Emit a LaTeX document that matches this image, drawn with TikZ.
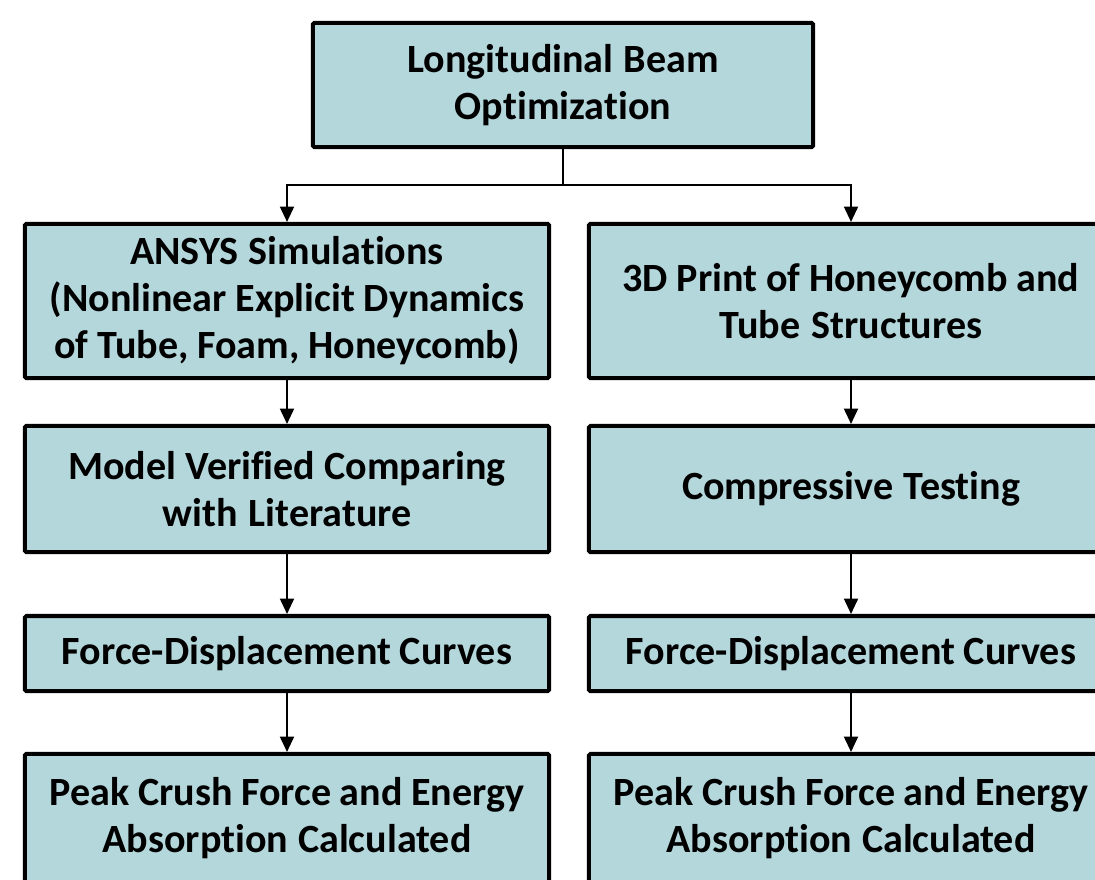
\documentclass[tikz,border=0pt]{standalone}
\usepackage{fontspec}
\setmainfont{Carlito}[Ligatures={NoCommon,NoContextual}]
\usepackage{tikz}
\usetikzlibrary{arrows.meta}

\definecolor{boxfill}{RGB}{180,215,220}
\newcommand\stagefont{\fontsize{28.5}{33.4}\selectfont\bfseries}
\newcommand\tightwords{\spaceskip=0.2em plus 0.05em minus 0.02em\relax}

\tikzset{
  stage/.style={draw=black, fill=boxfill, line width=2.85pt, rounded corners=1pt,
    inner sep=0pt, align=center, text width=12.9cm, minimum width=13.1cm,
    font=\stagefont},
  flow/.style={line width=1.4pt, -{Triangle[length=11pt,width=10pt]}},
}

\begin{document}
\begin{tikzpicture}[x=0.025cm, y=-0.025cm]
\clip (0,0) rectangle (1095,879);

% Top
\node[stage, minimum width=12.5cm, minimum height=3.1cm, text width=12.2cm] (beam) at (563,85) {\tightwords Longitudinal Beam\\Optimization};
\coordinate (split) at (563,185);

% Simulation side
\node[stage, minimum height=3.85cm] (ansys) at (287,301) {\tightwords ANSYS Simulations\\(Nonlinear Explicit Dynamics\\of Tube, Foam, Honeycomb)};
\node[stage, minimum height=3.15cm] (verify) at (287,489) {\tightwords Model Verified Comparing\\with Literature};
\node[stage, minimum height=1.875cm] (simcurve) at (287,653.5) {\tightwords Force-Displacement Curves};
\node[stage, minimum height=3.2cm] (simpeak) at (287,818) {\tightwords Peak Crush Force and Energy\\Absorption Calculated};

% Test side
\node[stage, minimum height=3.85cm] (print) at (851,301) {\tightwords 3D Print of Honeycomb and\\Tube Structures};
\node[stage, minimum height=3.15cm] (test) at (851,489) {\tightwords Compressive Testing};
\node[stage, minimum height=1.875cm] (testcurve) at (851,653.5) {\tightwords Force-Displacement Curves};
\node[stage, minimum height=3.2cm] (testpeak) at (851,818) {\tightwords Peak Crush Force and Energy\\Absorption Calculated};

% Connectors
\draw[line width=1.4pt] (beam) -- (split);
\draw[flow] (split) -| (ansys.north);
\draw[flow] (split) -| (print.north);
\draw[flow] (ansys) -- (verify);
\draw[flow] (verify) -- (simcurve);
\draw[flow] (simcurve) -- (simpeak);
\draw[flow] (print) -- (test);
\draw[flow] (test) -- (testcurve);
\draw[flow] (testcurve) -- (testpeak);
\end{tikzpicture}
\end{document}
